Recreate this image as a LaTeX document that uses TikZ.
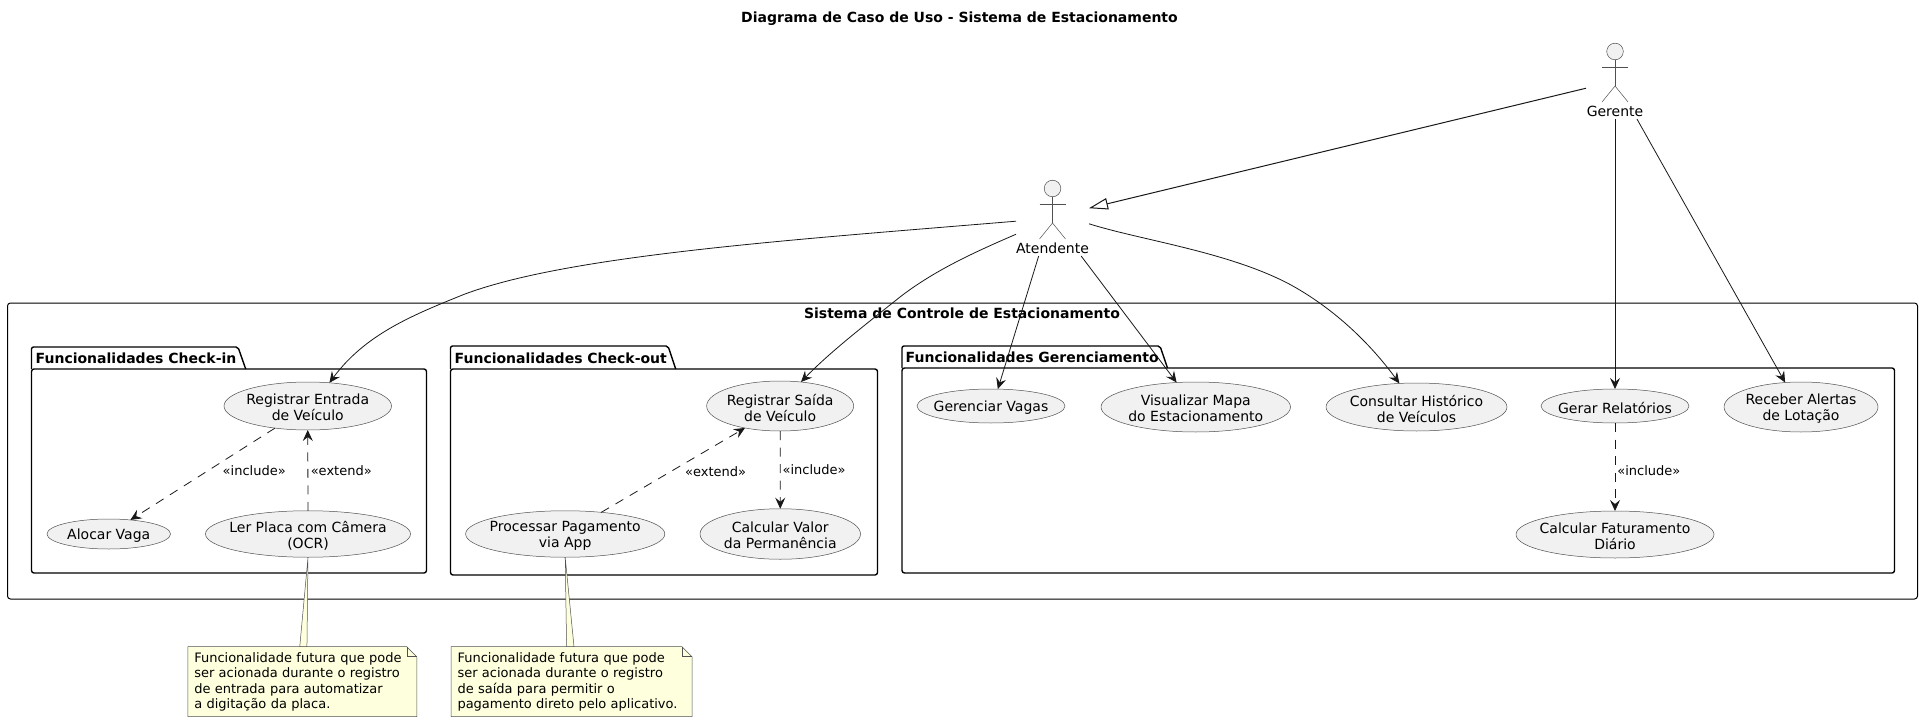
\documentclass[tikz,border=0pt]{standalone}
\usepackage{fontspec}
\setmainfont{DejaVu Sans}
\usetikzlibrary{arrows.meta,calc,shapes.geometric,backgrounds}
\definecolor{ucfill}{HTML}{F1F1F1}
\definecolor{ucline}{HTML}{181818}
\definecolor{thinline}{HTML}{505050}
\definecolor{notefill}{HTML}{FEFFDD}
\tikzset{
  ucase/.style={ellipse,draw=thinline,fill=ucfill,line width=.5pt,inner sep=0pt,outer sep=0pt},
  uctext/.style={align=center,inner sep=0pt,yshift=-1.5pt,font=\fontsize{14}{16}\selectfont},
  actorbox/.style={rectangle,inner sep=0pt,outer sep=0pt},
  actorline/.style={draw=thinline,fill=ucfill,line width=.5pt},
  actortext/.style={inner sep=0pt,font=\fontsize{14}{16}\selectfont},
  boxtitle/.style={inner sep=0pt,font=\fontsize{14}{16}\selectfont\bfseries},
  pkgline/.style={draw=black,line width=1.4pt,line join=round},
  sysbox/.style={draw=black,line width=1pt,rounded corners=3pt},
  conn/.style={draw=ucline,line width=.8pt,-{Stealth[length=11pt,width=10pt,inset=4pt]}},
  dconn/.style={conn,dash pattern=on 9pt off 7.5pt},
  genconn/.style={draw=ucline,line width=1pt,-{Triangle[open,fill=white,length=19pt,width=11.5pt]}},
  rellabel/.style={inner sep=0pt,font=\fontsize{13}{15}\selectfont},
  notebox/.style={rectangle,inner xsep=6.5pt,inner ysep=3.5pt,outer sep=0pt,align=left,minimum height=70pt,
    font=\fontsize{13}{15.5}\selectfont},
  noteline/.style={draw=thinline,fill=notefill,line width=.5pt},
}
\newcommand\uc[6]{\node[ucase,minimum width=#4pt,minimum height=#5pt,label={[uctext]center:#6}] (#1) at (#2,#3) {};}
\newcommand\actorfig[2]{%
  \draw[actorline] ($(#1.north)+(0,8.5)$) circle[radius=8.3pt];
  \draw[actorline] ($(#1.north)+(-13,24)$) -- ($(#1.north)+(13,24)$);
  \draw[actorline] ($(#1.north)+(0,17)$) -- ($(#1.north)+(0,43)$);
  \draw[actorline,fill=none] ($(#1.north)+(-13,59)$) -- ($(#1.north)+(0,43)$) -- ($(#1.north)+(13,59)$);
  \node[actortext] (#1t) at ($(#1.north)+(0,68)$) {#2};
}
\begin{document}
\begin{tikzpicture}[x=1pt,y=-1pt]
\useasboundingbox (0,0) rectangle (1919,722);
\node[boxtitle] (title) at (959.5,19) {Diagrama de Caso de Uso - Sistema de Estacionamento};

% system
\draw[sysbox] (7.5,303) rectangle (1917.5,599);
\node[boxtitle] (systitle) at (962,313) {Sistema de Controle de Estacionamento};

% packages
\draw[pkgline,rounded corners=2.5pt] (31.5,369) rectangle (426.5,573);
\draw[pkgline,rounded corners=2pt] (31.5,369) -- (31.5,347) -- (238,347) -- (245.7,369);
\node[boxtitle,anchor=west] (pkin) at (35.5,358.5) {Funcionalidades Check-in};
\draw[pkgline,rounded corners=2.5pt] (450.5,369) rectangle (877.5,575);
\draw[pkgline,rounded corners=2pt] (450.5,369) -- (450.5,346) -- (668,346) -- (675.7,369);
\node[boxtitle,anchor=west] (pkout) at (454.5,358.5) {Funcionalidades Check-out};
\draw[pkgline,rounded corners=2.5pt] (902,368) rectangle (1894.5,573);
\draw[pkgline,rounded corners=2pt] (902,368) -- (902,346) -- (1160,346) -- (1167.5,368);
\node[boxtitle,anchor=west] (pkger) at (905.5,357.5) {Funcionalidades Gerenciamento};

% use cases
\uc{en}{307.75}{406}{167.5}{48}{Registrar Entrada\\de Veículo}
\uc{al}{108.75}{534}{123.5}{30}{Alocar Vaga}
\uc{le}{308}{534}{205}{46.5}{Ler Placa com Câmera\\(OCR)}
\uc{sa}{780.15}{406}{147}{50}{Registrar Saída\\de Veículo}
\uc{va}{780.25}{534}{160.5}{50.5}{Calcular Valor\\da Permanência}
\uc{pr}{565.2}{534}{199.2}{46.5}{Processar Pagamento\\via App}
\uc{gv}{991}{406}{148}{34}{Gerenciar Vagas}
\uc{vi}{1195.75}{407}{189.5}{50}{Visualizar Mapa\\do Estacionamento}
\uc{co}{1416.5}{407}{181}{48}{Consultar Histórico\\de Veículos}
\uc{gr}{1615}{406}{148}{34}{Gerar Relatórios}
\uc{re}{1801}{407}{154}{50}{Receber Alertas\\de Lotação}
\uc{fa}{1615}{534.5}{198}{47}{Calcular Faturamento\\Diário}

% actors
\node[actorbox,minimum width=73pt,minimum height=76pt] (atd) at (1052.5,218) {};
\actorfig{atd}{Atendente}
\node[actorbox,minimum width=58pt,minimum height=76pt] (ger) at (1615,81) {};
\actorfig{ger}{Gerente}

% notes
\node[notebox,text width=216pt] (n1) at (302.25,681.7) {Funcionalidade futura que pode\\ser acionada durante o registro\\de entrada para automatizar\\a digitação da placa.};
\node[notebox,text width=228pt] (n2) at (571.5,681.7) {Funcionalidade futura que pode\\ser acionada durante o registro\\de saída para permitir o\\pagamento direto pelo aplicativo.};
\begin{scope}[on background layer]
\foreach \n in {n1,n2}{
  \draw[noteline] (\n.north west) -- ($(\n.north east)+(-10,0)$) -- ($(\n.north east)+(0,10)$) -- (\n.south east) -- (\n.south west) -- cycle;
  \draw[noteline,fill=none] ($(\n.north east)+(-10,0)$) -- ($(\n.north east)+(-10,10)$) -- ($(\n.north east)+(0,10)$);
}
\end{scope}
\draw[noteline] (le.south) -- ($(n1.north)+(-2.5,0)$) -- ($(n1.north)+(4.7,0)$) -- cycle;
\draw[noteline] (pr.south) -- ($(n2.north)+(-4.9,0)$) -- ($(n2.north)+(2.5,0)$) -- cycle;

% connectors
\draw[genconn] (ger.194) -- (atd.15);
\draw[conn] (atd.185) .. controls (790,240) and (570,255) .. (465,294) .. controls (410,316) and (365,335) .. (en.47);
\draw[conn] (atd.204) .. controls (975,252) and (935,270) .. (900,297) .. controls (865,325) and (830,352) .. (sa.49);
\draw[conn] (atd.250) -- (gv.68);
\draw[conn] (atd.307) -- (vi.128);
\draw[conn] (atd.351) .. controls (1140,240) and (1230,252) .. (1291,285) .. controls (1340,312) and (1375,350) .. (co.126);
\draw[conn] (ger.south) -- (gr.north);
\draw[conn] (ger.300) -- (re.123);

\draw[dconn] (en.214) -- node[pos=.5,rellabel,anchor=center,xshift=51.5pt,yshift=3pt] (l1) {«include»} (al.33);
\draw[dconn] (le.north) -- node[pos=.5,rellabel,anchor=west,xshift=2.5pt] (l2) {«extend»} (en.south);
\draw[dconn] (pr.31) -- node[pos=.5,rellabel,anchor=center,xshift=42.5pt,yshift=-1.5pt] (l3) {«extend»} (sa.212);
\draw[dconn] (sa.south) -- node[pos=.5,rellabel,anchor=west,xshift=2pt] (l4) {«include»} (va.north);
\draw[dconn] (gr.south) -- node[pos=.5,rellabel,anchor=west,xshift=2pt,yshift=-4pt] (l5) {«include»} (fa.north);
\end{tikzpicture}
\end{document}
